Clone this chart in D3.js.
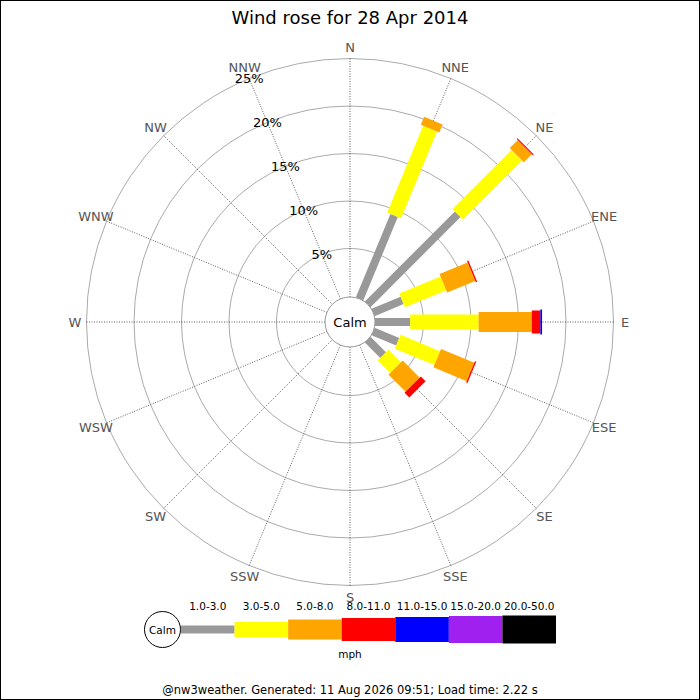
<!DOCTYPE html>
<html><head><meta charset="utf-8">
<script src="https://cdn.jsdelivr.net/npm/d3@7"></script>
<style>html,body{margin:0;padding:0;background:#fff}svg{display:block}</style>
</head><body>
<svg id="c" width="700" height="700"></svg>
<script>
const title = "Wind rose for 28 Apr 2014";
const directions = ["N","NNE","NE","ENE","E","ESE","SE","SSE","S","SSW","SW","WSW","W","WNW","NW","NNW"];
const bands = ["1.0-3.0","3.0-5.0","5.0-8.0","8.0-11.0","11.0-15.0","15.0-20.0","20.0-50.0"];
const bandColors = ["#999999","#ffff00","#ffa500","#ff0000","#0000ff","#a020f0","#000000"];
const bandWidths = [8,15,20,23,25,27,28];
// percentage per direction per band (N..NNW)
const band1 = [0, 9.4, 13.3, 3.2, 3.6, 2.7, 2.2, 0,0,0,0,0,0,0,0,0];
const band2 = [0, 9.9, 8.8, 4.7, 7.2, 4.5, 1.85, 0,0,0,0,0,0,0,0,0];
const band3 = [0, 0.9, 1.2, 3.2, 5.6, 3.8, 2.55, 0,0,0,0,0,0,0,0,0];
const band4 = [0, 0, 0.12, 0.15, 0.9, 0.15, 0.7, 0,0,0,0,0,0,0,0,0];
const band5 = [0, 0, 0, 0, 0.18, 0, 0, 0,0,0,0,0,0,0,0,0];
const band6 = [0,0,0,0,0,0,0,0,0,0,0,0,0,0,0,0];
const band7 = [0,0,0,0,0,0,0,0,0,0,0,0,0,0,0,0];
const ringTicks = [5,10,15,20,25];
const ringLabels = ["5%","10%","15%","20%","25%"];
const unitLabel = "mph";
const calmLabel = "Calm";
const footer = "@nw3weather. Generated: 11 Aug 2026 09:51; Load time: 2.22 s";

const series = [band1,band2,band3,band4,band5,band6,band7];
const svg = d3.select("#c");
const font = "DejaVu Sans";
const cx = 350, cy = 322, calmR = 25;
const r = d3.scaleLinear().domain([0,25]).range([26,263.5]);
const ang = d3.scaleBand().domain(directions).range([0,360]);
const angOf = d => ang(d); // band start = exact direction angle (step 22.5)

svg.append("rect").attr("x",0.5).attr("y",0.5).attr("width",699).attr("height",699)
  .attr("fill","#fff").attr("stroke","#000").attr("stroke-width",1);

svg.append("text").attr("x",350).attr("y",24).attr("text-anchor","middle")
  .attr("font-family",font).attr("font-size",18).attr("fill","#000").text(title);

const g = svg.append("g").attr("transform",`translate(${cx},${cy})`);

// rings
g.selectAll("circle.ring").data(ringTicks).join("circle").attr("class","ring")
  .attr("r",d=>r(d)).attr("fill","none").attr("stroke","#aaaaaa").attr("stroke-width",1);

// spokes
directions.forEach(d=>{
  const a = angOf(d)*Math.PI/180;
  g.append("line")
   .attr("x1",calmR*Math.sin(a)).attr("y1",-calmR*Math.cos(a))
   .attr("x2",r(25)*Math.sin(a)).attr("y2",-r(25)*Math.cos(a))
   .attr("stroke","#333").attr("stroke-width",0.8).attr("stroke-dasharray","1,1.5");
  const lr = 275;
  g.append("text").attr("x",lr*Math.sin(a)).attr("y",-lr*Math.cos(a))
   .attr("text-anchor","middle").attr("dominant-baseline","central")
   .attr("font-family",font).attr("font-size",13).attr("fill","#555").text(d);
});

// bars
directions.forEach((d,i)=>{
  let cum = 0;
  const bg = g.append("g").attr("transform",`rotate(${angOf(d)})`);
  series.forEach((s,b)=>{
    const v = s[i];
    if (v<=0) return;
    const r0 = cum===0 ? calmR : r(cum);
    cum += v;
    const r1 = r(cum);
    bg.append("rect").attr("x",-bandWidths[b]/2).attr("width",bandWidths[b])
      .attr("y",-r1).attr("height",r1-r0).attr("fill",bandColors[b]);
  });
});

// percent labels along NNW spoke
const la = angOf("NNW")*Math.PI/180;
g.selectAll("text.pct").data(ringTicks).join("text").attr("class","pct")
  .attr("x",d=>r(d)*Math.sin(la)).attr("y",d=>-r(d)*Math.cos(la))
  .attr("text-anchor","middle").attr("dominant-baseline","central")
  .attr("font-family",font).attr("font-size",13).attr("fill","#000")
  .text((d,i)=>ringLabels[i]);

// calm circle
g.append("circle").attr("r",calmR).attr("fill","#fff").attr("stroke","#999").attr("stroke-width",1);
g.append("text").attr("text-anchor","middle").attr("dominant-baseline","central")
  .attr("font-family",font).attr("font-size",13).attr("fill","#000").text(calmLabel);

// legend
const lx = d3.scaleBand().domain(bands).range([181,556]);
const ly = 629.5;
svg.append("circle").attr("cx",162.5).attr("cy",ly).attr("r",18).attr("fill","#fff").attr("stroke","#000").attr("stroke-width",1);
svg.append("text").attr("x",162.5).attr("y",ly).attr("text-anchor","middle").attr("dominant-baseline","central")
  .attr("font-family",font).attr("font-size",10.5).text(calmLabel);
bands.forEach((b,i)=>{
  svg.append("rect").attr("x",lx(b)).attr("width",lx.bandwidth())
    .attr("y",ly-bandWidths[i]/2).attr("height",bandWidths[i]).attr("fill",bandColors[i]);
  svg.append("text").attr("x",lx(b)+lx.bandwidth()/2).attr("y",610)
    .attr("text-anchor","middle").attr("font-family",font).attr("font-size",10.5).attr("fill","#000").text(b);
});
svg.append("text").attr("x",350).attr("y",658).attr("text-anchor","middle")
  .attr("font-family",font).attr("font-size",10.5).text(unitLabel);
svg.append("text").attr("x",350).attr("y",694).attr("text-anchor","middle")
  .attr("font-family",font).attr("font-size",11.5).text(footer);
</script>
</body></html>
